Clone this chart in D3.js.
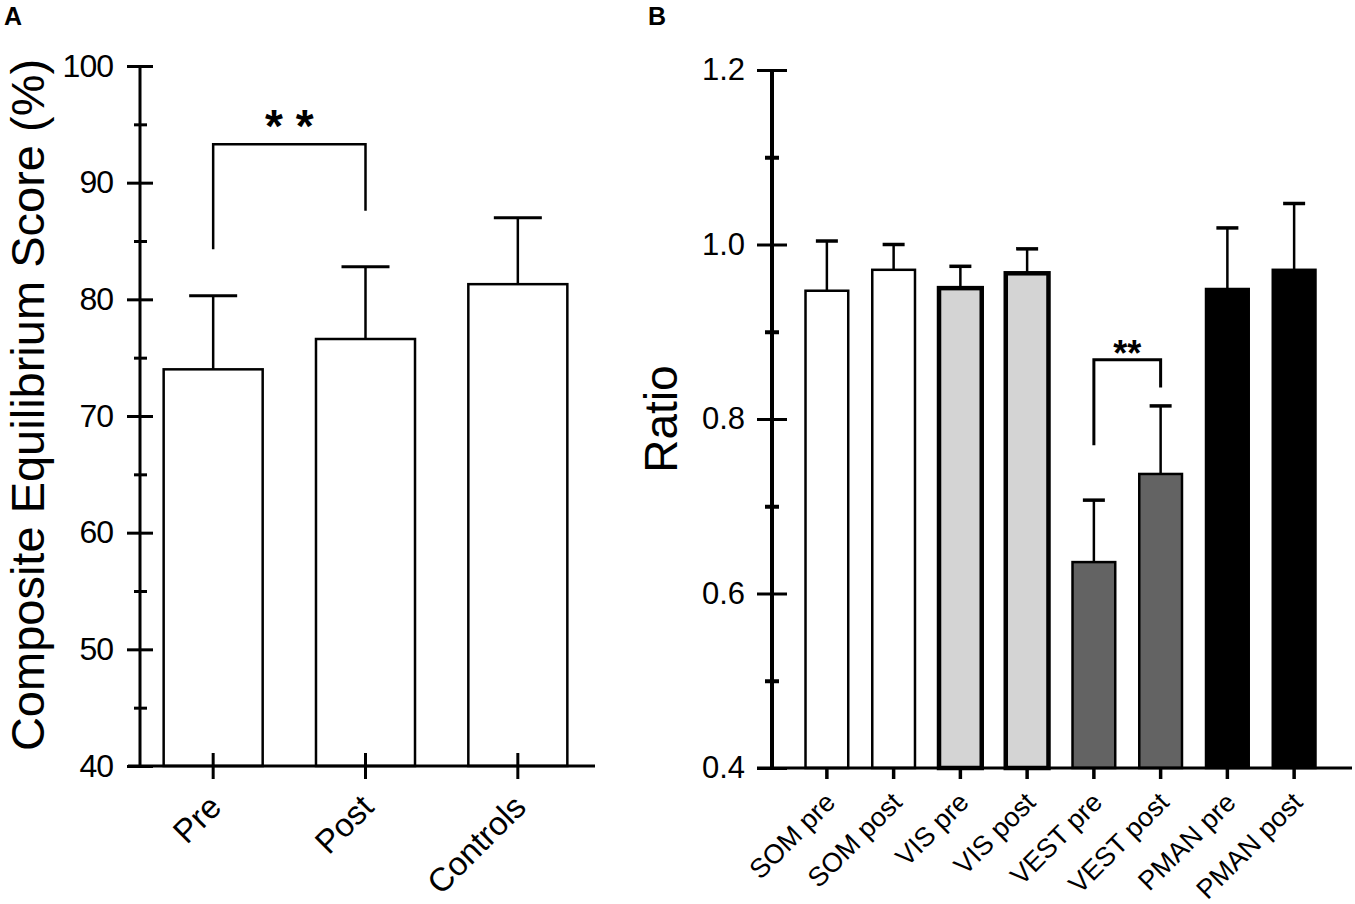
<!DOCTYPE html>
<html>
<head>
<meta charset="utf-8">
<script src="https://cdn.jsdelivr.net/npm/d3@7"></script>
<style>
  body { margin: 0; background: #fff; }
  text { font-family: "Liberation Sans", Arial, sans-serif; }
</style>
</head>
<body>
<script>
// panel A data
const catsA = ["Pre", "Post", "Controls"]
const meanA = [74.0, 76.6, 81.3]
const sdA = [6.3, 6.2, 5.7]
const ticksA = [40, 50, 60, 70, 80, 90, 100]
const minorA = [45, 55, 65, 75, 85, 95]

// panel B data
const catsB = ["SOM pre", "SOM post", "VIS pre", "VIS post", "VEST pre", "VEST post", "PMAN pre", "PMAN post"]
const meanB = [0.947, 0.971, 0.950, 0.967, 0.636, 0.737, 0.949, 0.971]
const sdB = [0.057, 0.029, 0.025, 0.028, 0.071, 0.078, 0.070, 0.076]
const ticksB = [0.4, 0.6, 0.8, 1.0, 1.2]
const tickLabelsB = ["0.4", "0.6", "0.8", "1.0", "1.2"]
const minorB = [0.5, 0.7, 0.9, 1.1]

// bar look per modality
const look = {
    SOM: { fill: "#fff", sw: 2.5 },
    VIS: { fill: "#d4d4d4", sw: 4.5 },
    VEST: { fill: "#636363", sw: 2.5 },
    PMAN: { fill: "#000", sw: 2.5 }
}

const svg = d3.select("body").append("svg")
    .attr("width", 1355)
    .attr("height", 904)

// ---------- A ----------
const yA = d3.scaleLinear().domain([40, 100]).range([766, 66])
const xA = d3.scaleBand().domain(catsA).range([137, 594])
    .paddingInner(0.35).paddingOuter(0.175)
const axA = 140

const gA = svg.append("g")

// bars
gA.selectAll("rect.bar")
    .data(catsA)
    .enter()
    .append("rect")
    .attr("x", d => xA(d))
    .attr("y", (d, i) => yA(meanA[i]))
    .attr("width", xA.bandwidth())
    .attr("height", (d, i) => yA(40) - yA(meanA[i]))
    .style("fill", "#fff")
    .style("stroke", "#000")
    .style("stroke-width", 2.5)

// error bars
catsA.forEach((d, i) => {
    const cx = xA(d) + xA.bandwidth() / 2
    gA.append("line").attr("x1", cx).attr("x2", cx)
        .attr("y1", yA(meanA[i])).attr("y2", yA(meanA[i] + sdA[i]))
        .style("stroke", "#000").style("stroke-width", 2.5)
    gA.append("line").attr("x1", cx - 24).attr("x2", cx + 24)
        .attr("y1", yA(meanA[i] + sdA[i])).attr("y2", yA(meanA[i] + sdA[i]))
        .style("stroke", "#000").style("stroke-width", 3)
})

// y axis
const yAxisA = gA.append("g")
    .attr("transform", `translate(${axA},0)`)
    .call(d3.axisLeft(yA).tickValues(ticksA).tickSize(13).tickPadding(14))
yAxisA.select(".domain").remove()
yAxisA.selectAll(".tick line").attr("x1", 13).attr("x2", -13).style("stroke-width", 3)
yAxisA.selectAll(".tick text")
    .style("font-size", "32px").style("letter-spacing", "-1px")
    .style("font-family", "'Liberation Sans', Arial, sans-serif")
    .style("fill", "#000")

const yMinorA = gA.append("g")
    .attr("transform", `translate(${axA},0)`)
    .call(d3.axisLeft(yA).tickValues(minorA).tickSize(6).tickFormat(""))
yMinorA.select(".domain").remove()
yMinorA.selectAll(".tick line").attr("x1", 7).attr("x2", -6).style("stroke-width", 3)

gA.append("line").attr("x1", axA).attr("x2", axA).attr("y1", yA(100)).attr("y2", yA(40) + 1.5)
    .style("stroke", "#000").style("stroke-width", 3)

// x axis
const xAxisA = gA.append("g")
    .attr("transform", `translate(0,${yA(40)})`)
    .call(d3.axisBottom(xA).tickSize(13).tickFormat(""))
xAxisA.select(".domain").remove()
xAxisA.selectAll(".tick line").attr("y1", -13).attr("y2", 13).style("stroke-width", 3)
gA.append("line").attr("x1", 128).attr("x2", 595).attr("y1", yA(40)).attr("y2", yA(40))
    .style("stroke", "#000").style("stroke-width", 3)

gA.selectAll("text.xlab")
    .data(catsA)
    .enter()
    .append("text")
    .attr("class", "xlab")
    .attr("transform", d => `translate(${xA(d) + xA.bandwidth() / 2 + 10},${yA(40) + 43}) rotate(-45)`)
    .attr("text-anchor", "end")
    .style("font-size", "33px")
    .text(d => d)

// significance
const bxA1 = xA("Pre") + xA.bandwidth() / 2
const bxA2 = xA("Post") + xA.bandwidth() / 2
gA.append("path")
    .attr("d", `M${bxA1},${yA(84.3)}V${yA(93.3)}H${bxA2}V${yA(87.6)}`)
    .style("fill", "none").style("stroke", "#000").style("stroke-width", 2.5)
gA.append("text")
    .attr("x", (bxA1 + bxA2) / 2).attr("y", yA(93.3) - 2)
    .attr("text-anchor", "middle")
    .style("font-size", "46px").style("font-weight", "bold")
    .text("* *")

gA.append("text")
    .attr("transform", `translate(44,405) rotate(-90)`)
    .attr("text-anchor", "middle")
    .style("font-size", "47px")
    .text("Composite Equilibrium Score (%)")

svg.append("text").attr("x", 4).attr("y", 25)
    .style("font-size", "25px").style("font-weight", "bold").text("A")

// ---------- B ----------
const yB = d3.scaleLinear().domain([0.4, 1.2]).range([768, 70])
const xB = d3.scaleBand().domain(catsB).range([793.5, 1327.5])
    .paddingInner(0.36).paddingOuter(0.18)
const axB = 772

const gB = svg.append("g")

gB.selectAll("rect.bar")
    .data(catsB)
    .enter()
    .append("rect")
    .attr("x", d => xB(d))
    .attr("y", (d, i) => yB(meanB[i]))
    .attr("width", xB.bandwidth())
    .attr("height", (d, i) => yB(0.4) - yB(meanB[i]))
    .style("fill", d => look[d.split(" ")[0]].fill)
    .style("stroke", "#000")
    .style("stroke-width", d => look[d.split(" ")[0]].sw)

catsB.forEach((d, i) => {
    const cx = xB(d) + xB.bandwidth() / 2
    gB.append("line").attr("x1", cx).attr("x2", cx)
        .attr("y1", yB(meanB[i])).attr("y2", yB(meanB[i] + sdB[i]))
        .style("stroke", "#000").style("stroke-width", 2.5)
    gB.append("line").attr("x1", cx - 11).attr("x2", cx + 11)
        .attr("y1", yB(meanB[i] + sdB[i])).attr("y2", yB(meanB[i] + sdB[i]))
        .style("stroke", "#000").style("stroke-width", 3.5)
})

const yAxisB = gB.append("g")
    .attr("transform", `translate(${axB},0)`)
    .call(d3.axisLeft(yB).tickValues(ticksB).tickSize(15).tickPadding(12)
        .tickFormat((d, i) => tickLabelsB[i]))
yAxisB.select(".domain").remove()
yAxisB.selectAll(".tick line").attr("x1", 15).attr("x2", -15).style("stroke-width", 3)
yAxisB.selectAll(".tick text")
    .style("font-size", "31px")
    .style("font-family", "'Liberation Sans', Arial, sans-serif")
    .style("fill", "#000")

const yMinorB = gB.append("g")
    .attr("transform", `translate(${axB},0)`)
    .call(d3.axisLeft(yB).tickValues(minorB).tickSize(7).tickFormat(""))
yMinorB.select(".domain").remove()
yMinorB.selectAll(".tick line").attr("x1", 7).attr("x2", -7).style("stroke-width", 4)

gB.append("line").attr("x1", axB).attr("x2", axB).attr("y1", yB(1.2)).attr("y2", yB(0.4) + 1.5)
    .style("stroke", "#000").style("stroke-width", 4)

const xAxisB = gB.append("g")
    .attr("transform", `translate(0,${yB(0.4)})`)
    .call(d3.axisBottom(xB).tickSize(11).tickFormat(""))
xAxisB.select(".domain").remove()
xAxisB.selectAll(".tick line").style("stroke-width", 3.5)
gB.append("line").attr("x1", 757).attr("x2", 1352).attr("y1", yB(0.4)).attr("y2", yB(0.4))
    .style("stroke", "#000").style("stroke-width", 3)

gB.selectAll("text.xlab")
    .data(catsB)
    .enter()
    .append("text")
    .attr("class", "xlab")
    .attr("transform", d => `translate(${xB(d) + xB.bandwidth() / 2 + 10},${yB(0.4) + 36}) rotate(-45)`)
    .attr("text-anchor", "end")
    .style("font-size", "27px")
    .text(d => d)

const bxB1 = xB("VEST pre") + xB.bandwidth() / 2
const bxB2 = xB("VEST post") + xB.bandwidth() / 2
gB.append("path")
    .attr("d", `M${bxB1},${yB(0.770)}V${yB(0.868)}H${bxB2}V${yB(0.836)}`)
    .style("fill", "none").style("stroke", "#000").style("stroke-width", 3)
gB.append("text")
    .attr("x", (bxB1 + bxB2) / 2).attr("y", yB(0.868) + 6)
    .attr("text-anchor", "middle")
    .style("font-size", "36px").style("font-weight", "bold")
    .text("**")

gB.append("text")
    .attr("transform", `translate(677,${yB(0.8)}) rotate(-90)`)
    .attr("text-anchor", "middle")
    .style("font-size", "46px")
    .text("Ratio")

svg.append("text").attr("x", 648).attr("y", 25)
    .style("font-size", "25px").style("font-weight", "bold").text("B")
</script>
</body>
</html>
